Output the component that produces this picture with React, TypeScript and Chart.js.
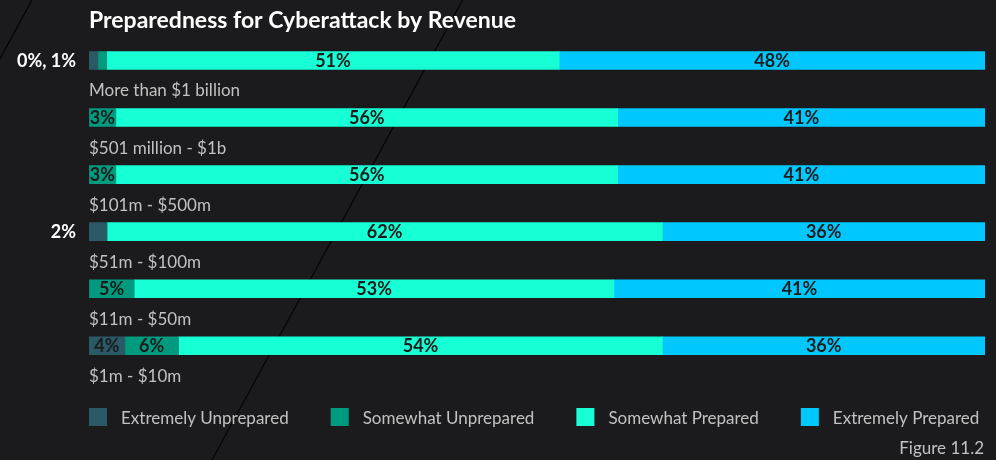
import React, { useEffect, useRef } from "react";
import { Chart, registerables } from "chart.js";

Chart.register(...registerables);

const titleText = "Preparedness for Cyberattack by Revenue";
const figureLabel = "Figure 11.2";

const categories = [
  "More than $1 billion",
  "$501 million - $1b",
  "$101m - $500m",
  "$51m - $100m",
  "$11m - $50m",
  "$1m - $10m",
];

const seriesNames = [
  "Extremely Unprepared",
  "Somewhat Unprepared",
  "Somewhat Prepared",
  "Extremely Prepared",
];

// values as drawn (percent of respondents)
const extremelyUnprepared = [1, 0, 0, 2, 0, 4];
const somewhatUnprepared = [1, 3, 3, 0, 5, 6];
const somewhatPrepared = [51, 56, 56, 62, 53, 54];
const extremelyPrepared = [48, 41, 41, 36, 41, 36];

// labels shown to the left of bars whose small segments are too thin
const sideLabels = ["0%, 1%", "", "", "2%", "", ""];

const seriesColors = ["#2b5a67", "#009b7e", "#17ffd4", "#00c8ff"];

const BG = "#1b1b1d";
const FONT = "Lato, 'Noto Sans', sans-serif";

const rawSeries = [extremelyUnprepared, somewhatUnprepared, somewhatPrepared, extremelyPrepared];
const rowTotals = categories.map((_, i) => rawSeries.reduce((s, arr) => s + arr[i], 0));

const decorPlugin = {
  id: "decor",
  beforeDraw(chart: any) {
    const { ctx, width, height } = chart;
    ctx.save();
    ctx.fillStyle = BG;
    ctx.fillRect(0, 0, width, height);
    ctx.strokeStyle = "#050505";
    ctx.lineWidth = 1.2;
    const slope = 0.5446;
    ctx.beginPath();
    ctx.moveTo(32, 0);
    ctx.lineTo(32 - slope * height, height);
    ctx.moveTo(462.5, 0);
    ctx.lineTo(462.5 - slope * height, height);
    ctx.stroke();
    ctx.restore();
  },
  afterDatasetsDraw(chart: any) {
    const { ctx, chartArea } = chart;
    ctx.save();
    // values inside segments
    ctx.font = `bold 18px ${FONT}`;
    ctx.fillStyle = "#1b1b1b";
    ctx.textAlign = "center";
    ctx.textBaseline = "alphabetic";
    chart.data.datasets.forEach((ds: any, di: number) => {
      const meta = chart.getDatasetMeta(di);
      meta.data.forEach((bar: any, i: number) => {
        const raw = rawSeries[di][i];
        if (raw < 3) return;
        const p = bar.getProps(["x", "y", "base"], true);
        ctx.fillText(`${raw}%`, (p.x + p.base) / 2, p.y + 6.5);
      });
    });
    // side labels and category labels
    const meta0 = chart.getDatasetMeta(0);
    meta0.data.forEach((bar: any, i: number) => {
      const p = bar.getProps(["y"], true);
      if (sideLabels[i]) {
        ctx.font = `bold 18px ${FONT}`;
        ctx.fillStyle = "#ffffff";
        ctx.textAlign = "right";
        ctx.fillText(sideLabels[i], chartArea.left - 13, p.y + 6.5);
      }
      ctx.font = `17px ${FONT}`;
      ctx.fillStyle = "#c2c2c2";
      ctx.textAlign = "left";
      ctx.fillText(categories[i], chartArea.left, p.y + 36);
    });
    ctx.restore();
  },
  afterDraw(chart: any) {
    const { ctx, chartArea, width, height } = chart;
    ctx.save();
    ctx.font = `17px ${FONT}`;
    ctx.textBaseline = "alphabetic";
    ctx.textAlign = "left";
    let x = chartArea.left;
    const boxTop = chartArea.bottom + 33.7;
    seriesNames.forEach((name, i) => {
      ctx.fillStyle = seriesColors[i];
      ctx.fillRect(x, boxTop, 18, 18);
      ctx.fillStyle = "#c2c2c2";
      ctx.fillText(name, x + 32, boxTop + 15.5);
      x += 32 + ctx.measureText(name).width + 42;
    });
    ctx.textAlign = "right";
    ctx.fillText(figureLabel, width - 12, height - 6);
    ctx.restore();
  },
};

export default function App() {
  const ref = useRef<HTMLCanvasElement>(null);
  useEffect(() => {
    document.body.style.margin = "0";
    document.body.style.background = BG;
    const canvas = ref.current;
    if (!canvas) return;
    const chart = new Chart(canvas, {
      type: "bar",
      data: {
        labels: categories,
        datasets: rawSeries.map((arr, di) => ({
          label: seriesNames[di],
          data: arr.map((v, i) => (v / rowTotals[i]) * 100),
          backgroundColor: seriesColors[di],
          borderWidth: 0,
          barThickness: 18,
        })),
      },
      options: {
        indexAxis: "y",
        responsive: false,
        animation: false,
        layout: { padding: { left: 89, right: 11, top: 0, bottom: 85.7 } },
        scales: {
          x: { stacked: true, min: 0, max: 100, display: false },
          y: { stacked: true, display: false },
        },
        plugins: {
          legend: { display: false },
          tooltip: { enabled: false },
          title: {
            display: true,
            text: titleText,
            align: "start",
            color: "#ffffff",
            font: { family: FONT, size: 23, weight: "bold", lineHeight: 1 },
            padding: { top: 8.8, bottom: 0.13 },
          },
        },
      },
      plugins: [decorPlugin],
    });
    return () => chart.destroy();
  }, []);
  return (
    <div style={{ width: 996, height: 460, background: BG }}>
      <canvas ref={ref} width={996} height={460} />
    </div>
  );
}
